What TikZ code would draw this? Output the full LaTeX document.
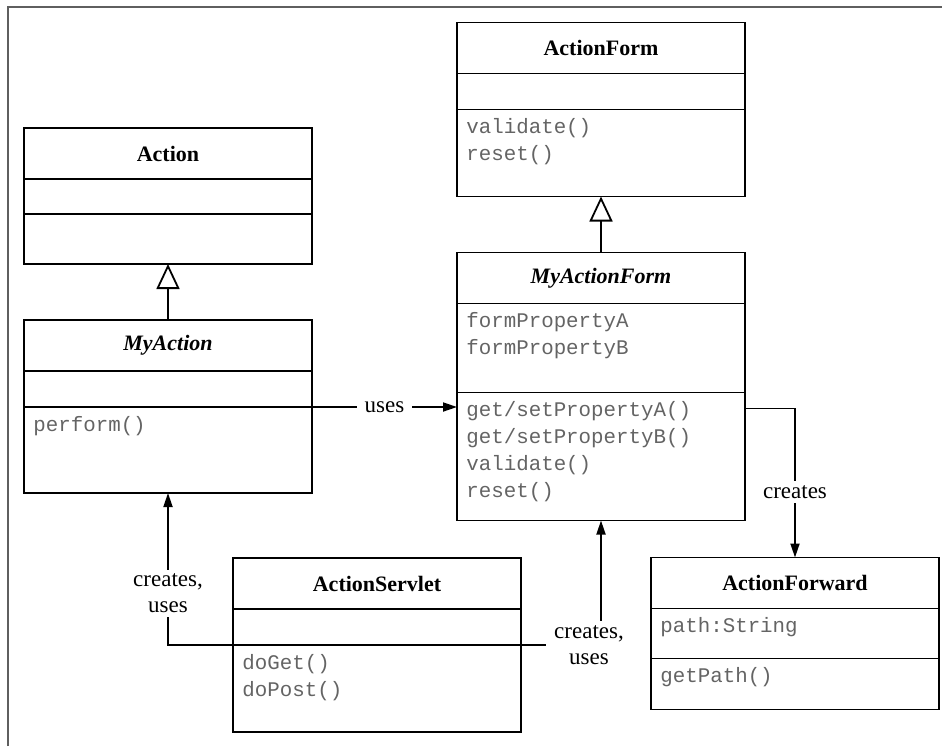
\documentclass[tikz,border=0pt]{standalone}
\usepackage{fontspec}
\setmainfont{Liberation Serif}
\newfontfamily\umlmono{Liberation Mono}
\usepackage{tikz}
\usetikzlibrary{calc,arrows.meta,positioning}
\usepackage{xcolor}
\definecolor{framegray}{RGB}{95,95,95}
\definecolor{membergray}{RGB}{100,100,100}

\begin{document}
\begin{tikzpicture}[
    x=0.5pt,y=-0.5pt,
    every node/.style={font=\fontsize{11.5}{13}\selectfont},
    ctitle/.style={rectangle,draw,line width=0.9pt,outer sep=0pt,
                   minimum width=144pt,minimum height=25.5pt,
                   font=\fontsize{11}{12}\selectfont\bfseries},
    cpart/.style={rectangle,draw,line width=0.9pt,outer sep=0pt,
                  minimum width=144pt,below=0pt of #1},
    members/.style={anchor=north west,align=left,inner xsep=4.5pt,inner ysep=4.5pt,
                    text=membergray,font=\umlmono\fontsize{10.4}{13.5}\selectfont},
    inherit/.style={line width=0.9pt,-{Triangle[open,length=12.5pt,width=11.5pt]}},
    arrow/.style={line width=0.9pt,-{Triangle[length=7pt,width=4.5pt]}},
    tag/.style={fill=white,inner xsep=4pt,inner ysep=2pt,align=center}
  ]
    \useasboundingbox (0,0) rectangle (942,746);
    \draw[framegray,line width=1pt] (8,746) -- (8,6.5) -- (942,6.5);

    \node[ctitle] (act) at (168,153.5) {Action};
    \node[cpart=act,minimum height=17.5pt] (act-attr) {};
    \node[cpart=act-attr,minimum height=25pt] (act-ops) {};

    \node[ctitle,below=28pt of act-ops] (myact) {\itshape MyAction};
    \node[cpart=myact,minimum height=18pt] (myact-attr) {};
    \node[cpart=myact-attr,minimum height=43pt] (myact-ops) {};
    \node[members] (myact-ops-txt) at (myact-ops.north west) {perform()};

    \node[ctitle] (af) at (601,48) {ActionForm};
    \node[cpart=af,minimum height=18pt] (af-attr) {};
    \node[cpart=af-attr,minimum height=43.5pt] (af-ops) {};
    \node[members] (af-ops-txt) at (af-ops.north west) {validate()\\reset()};

    \node[ctitle,below=28pt of af-ops] (maf) {\itshape MyActionForm};
    \node[cpart=maf,minimum height=44.5pt] (maf-attr) {};
    \node[cpart=maf-attr,minimum height=64pt] (maf-ops) {};
    \node[members] (maf-attr-txt) at (maf-attr.north west) {formPropertyA\\formPropertyB};
    \node[members] (maf-ops-txt) at (maf-ops.north west)
      {get/setPropertyA()\\get/setPropertyB()\\validate()\\reset()};

    \node[ctitle] (srv) at (377,583.5) {ActionServlet};
    \node[cpart=srv,minimum height=18pt] (srv-attr) {};
    \node[cpart=srv-attr,minimum height=43.5pt] (srv-ops) {};
    \node[members] (srv-ops-txt) at (srv-ops.north west) {doGet()\\doPost()};

    \node[ctitle] (afw) at (795,583) {ActionForward};
    \node[cpart=afw,minimum height=25pt] (afw-attr) {};
    \node[cpart=afw-attr,minimum height=25.5pt] (afw-ops) {};
    \node[members] (afw-attr-txt) at (afw-attr.north west) {path:String};
    \node[members] (afw-ops-txt) at (afw-ops.north west) {getPath()};

    \draw[inherit] (myact.north) -- (act-ops.south);
    \draw[inherit] (maf.north) -- (af-ops.south);
    \draw[arrow] (myact-ops.north east) -- (myact-ops.north east -| maf-ops.west)
      node[midway,tag] {uses};
    \draw[arrow] ($(maf-ops.north east)+(0,16)$) -| (afw.north)
      node[pos=0.78,tag] {creates};
    \draw[arrow] (srv-ops.north west) -| (myact-ops.south)
      node[pos=0.67,tag] {creates,\\uses};
    \draw[arrow] (srv-ops.north east) -| (maf-ops.south)
      node[pos=0.5,xshift=-6pt,tag] {creates,\\uses};
  \end{tikzpicture}
\end{document}
